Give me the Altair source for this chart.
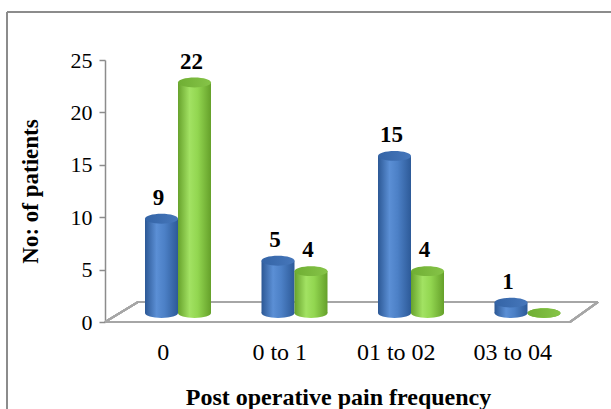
import altair as alt
import pandas as pd

# Pain frequency groups and patient counts for the two groups
categories = ["0", "0 to 1", "01 to 02", "03 to 04"]
series_names = ["Group 1", "Group 2"]
group1_counts = [9, 5, 15, 1]
group2_counts = [22, 4, 4, 0]

rows = []
for cat, a, b in zip(categories, group1_counts, group2_counts):
    rows.append({"category": cat, "series": series_names[0], "value": a})
    rows.append({"category": cat, "series": series_names[1], "value": b})
df = pd.DataFrame(rows)

FONT = "Liberation Serif"
W, H = 466, 262
GRID = "#8c8c8c"

blue_body = alt.Gradient(
    gradient="linear", x1=0, x2=1, y1=0, y2=0,
    stops=[
        alt.GradientStop(offset=0, color="#2c5895"),
        alt.GradientStop(offset=0.35, color="#5b8fd5"),
        alt.GradientStop(offset=0.6, color="#4c80c6"),
        alt.GradientStop(offset=1, color="#2d5a98"),
    ],
)
green_body = alt.Gradient(
    gradient="linear", x1=0, x2=1, y1=0, y2=0,
    stops=[
        alt.GradientStop(offset=0, color="#67a22c"),
        alt.GradientStop(offset=0.35, color="#a2e263"),
        alt.GradientStop(offset=0.6, color="#92d650"),
        alt.GradientStop(offset=1, color="#65a02a"),
    ],
)
blue_cap = alt.Gradient(
    gradient="linear", x1=0, x2=1, y1=0, y2=0,
    stops=[
        alt.GradientStop(offset=0, color="#3464a6"),
        alt.GradientStop(offset=1, color="#4677bb"),
    ],
)
green_cap = alt.Gradient(
    gradient="linear", x1=0, x2=1, y1=0, y2=0,
    stops=[
        alt.GradientStop(offset=0, color="#6fae33"),
        alt.GradientStop(offset=1, color="#86c448"),
    ],
)

is_first = alt.datum.series == series_names[0]

# Ellipse outline in unit coordinates, used for the cylinder ends
k = 0.3
c = 0.5523
ELLIPSE = (
    f"M -1 0 C -1 {-c*k:.4f} {-c:.4f} {-k} 0 {-k} "
    f"C {c:.4f} {-k} 1 {-c*k:.4f} 1 0 "
    f"C 1 {c*k:.4f} {c:.4f} {k} 0 {k} "
    f"C {-c:.4f} {k} -1 {c*k:.4f} -1 0 Z"
)

x_enc = alt.X(
    "category:N",
    sort=categories,
    scale=alt.Scale(paddingInner=0, paddingOuter=0),
    title="Post operative pain frequency",
    axis=alt.Axis(
        labelFont=FONT, labelFontSize=24, labelColor="black", labelAngle=0,
        labelPadding=18, domain=False, ticks=False,
        titleFont=FONT, titleFontSize=24, titleFontWeight="bold",
        titleColor="black", titlePadding=21,
    ),
)
xoff_enc = alt.XOffset(
    "series:N",
    sort=series_names,
    scale=alt.Scale(range=[40, 106], paddingInner=0, paddingOuter=0),
)

# Axis layer carrying the value scale and its labels
axis_layer = alt.Chart(df).mark_point(opacity=0).encode(
    x=x_enc,
    y=alt.Y(
        "value:Q",
        scale=alt.Scale(domain=[0, 25], nice=False),
        title="No: of patients",
        axis=alt.Axis(
            values=[0, 5, 10, 15, 20, 25], grid=False,
            labelFont=FONT, labelFontSize=22, labelColor="black",
            labelPadding=7, tickSize=6, tickColor=GRID, domainColor=GRID,
            domainWidth=1.5, tickWidth=1.5,
            titleFont=FONT, titleFontSize=23, titleFontWeight="bold",
            titleColor="black", titlePadding=28,
        ),
    ),
)

# Bars sit slightly behind the front edge of the floor
y_bar_scale = alt.Scale(domain=[-0.85, 24.15], nice=False)
base = alt.Chart(df).encode(x=x_enc, xOffset=xoff_enc)

bottom_caps = base.mark_point(shape=ELLIPSE, size=1089, filled=True, opacity=1, strokeWidth=0).encode(
    y=alt.Y("zero:Q", scale=y_bar_scale, axis=None),
    fill=alt.condition(is_first, alt.value(blue_body), alt.value(green_body)),
).transform_calculate(zero="0")

bodies = base.mark_bar(size=33).encode(
    y=alt.Y("value:Q", scale=y_bar_scale, axis=None),
    y2=alt.datum(0),
    fill=alt.condition(is_first, alt.value(blue_body), alt.value(green_body)),
)

top_caps = base.mark_point(shape=ELLIPSE, size=1089, filled=True, opacity=1, strokeWidth=0).encode(
    y=alt.Y("value:Q", scale=y_bar_scale, axis=None),
    fill=alt.condition(is_first, alt.value(blue_cap), alt.value(green_cap)),
)

value_labels = base.mark_text(
    font=FONT, fontSize=23, fontWeight="bold", color="black",
    baseline="bottom", dy=-9, dx=-3,
).encode(
    y=alt.Y("value:Q", scale=y_bar_scale, axis=None),
    text=alt.Text("value:Q"),
).transform_filter(alt.datum.value > 0)

bars = alt.layer(bottom_caps, bodies, top_caps, value_labels)

# Floor of the plot: a flat parallelogram
floor_style = dict(color="#a6a6a6", strokeWidth=2)
floor_front = alt.Chart(df).mark_rule(**floor_style).encode(
    x=alt.value(0), x2=alt.value(465), y=alt.value(H), y2=alt.value(H))
floor_back = alt.Chart(df).mark_rule(**floor_style).encode(
    x=alt.value(33), x2=alt.value(493), y=alt.value(H - 20), y2=alt.value(H - 20))
floor_left = alt.Chart(df).mark_rule(**floor_style).encode(
    x=alt.value(0), x2=alt.value(33), y=alt.value(H), y2=alt.value(H - 20))
floor_right = alt.Chart(df).mark_rule(**floor_style).encode(
    x=alt.value(465), x2=alt.value(493), y=alt.value(H), y2=alt.value(H - 20))

# Outer frame around the chart
frame_style = dict(color=GRID, strokeWidth=1.5)
frame_left = alt.Chart(df).mark_rule(**frame_style).encode(
    x=alt.value(-98), x2=alt.value(-98), y=alt.value(-48), y2=alt.value(H + 100))
frame_top = alt.Chart(df).mark_rule(**frame_style).encode(
    x=alt.value(-98), x2=alt.value(W + 60), y=alt.value(-48), y2=alt.value(-48))

chart = alt.layer(
    frame_left, frame_top,
    floor_front, floor_back, floor_left, floor_right,
    axis_layer, bars,
).resolve_scale(y="independent").properties(
    width=W, height=H,
    autosize=alt.AutoSizeParams(type="none"),
    padding={"left": 105, "top": 60, "right": 40, "bottom": 87},
    background="white",
).configure_view(stroke=None)

chart.save("out.html", embed_options={"renderer": "svg", "actions": False})
